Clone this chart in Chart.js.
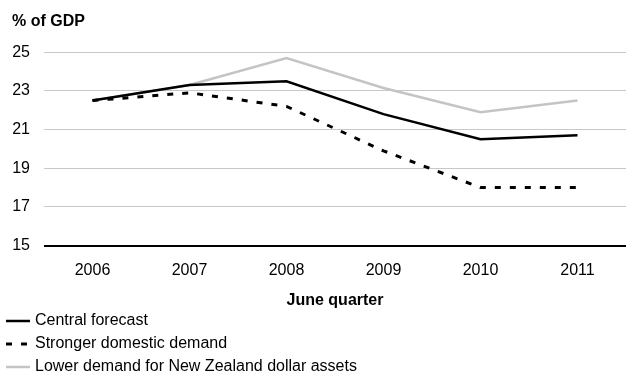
<!DOCTYPE html>
<html>
<head>
<meta charset="utf-8">
<script src="https://cdn.jsdelivr.net/npm/chart.js@4"></script>
<style>
  html, body { margin: 0; padding: 0; background: #fff; }
  #wrap { width: 626px; height: 376px; position: relative; }
</style>
</head>
<body>
<div id="wrap"><canvas id="gdpChart"></canvas></div>
<script>
const years = ['2006', '2007', '2008', '2009', '2010', '2011'];
const central = [22.5, 23.3, 23.5, 21.8, 20.5, 20.7];
const strongerDemand = [22.5, 22.9, 22.2, 19.9, 18.0, 18.0];
const lowerNzdDemand = [22.5, 23.3, 24.7, 23.15, 21.9, 22.5];
const seriesNames = ['Central forecast', 'Stronger domestic demand', 'Lower demand for New Zealand dollar assets'];

const fontFamily = '"Liberation Sans", Arial, sans-serif';

// legend drawn one item per row under the axis title
const stackedLegend = {
    id: 'stackedLegend',
    afterDraw(chart) {
        const ctx = chart.ctx;
        const top = 321;
        const rowGap = 23;
        ctx.save();
        chart.data.datasets.forEach(function(ds, i) {
            const y = top + i * rowGap;
            ctx.beginPath();
            ctx.strokeStyle = ds.borderColor;
            ctx.lineWidth = ds.borderWidth;
            ctx.setLineDash(ds.borderDash || []);
            ctx.moveTo(6, y);
            ctx.lineTo(30, y);
            ctx.stroke();
            ctx.setLineDash([]);
            ctx.fillStyle = '#000';
            ctx.font = '16px ' + fontFamily;
            ctx.textBaseline = 'middle';
            ctx.textAlign = 'left';
            ctx.fillText(ds.label, 35, y);
        });
        ctx.restore();
    }
};

new Chart(document.getElementById('gdpChart'), {
    type: 'line',
    data: {
        labels: years,
        datasets: [{
            label: seriesNames[0],
            data: central,
            borderColor: '#000000',
            borderWidth: 2.5,
            pointRadius: 0,
            tension: 0
        }, {
            label: seriesNames[1],
            data: strongerDemand,
            borderColor: '#000000',
            borderWidth: 3,
            borderDash: [6, 9],
            pointRadius: 0,
            tension: 0
        }, {
            label: seriesNames[2],
            data: lowerNzdDemand,
            borderColor: '#c4c4c4',
            borderWidth: 2.5,
            pointRadius: 0,
            tension: 0
        }]
    },
    options: {
        responsive: true,
        maintainAspectRatio: false,
        animation: false,
        layout: {
            padding: { left: 12, right: 0, top: 0, bottom: 66 }
        },
        plugins: {
            legend: { display: false },
            tooltip: { enabled: false },
            title: {
                display: true,
                text: '% of GDP',
                align: 'start',
                color: '#000',
                font: { family: fontFamily, size: 16, weight: 'bold' },
                padding: { top: 12, bottom: 21 }
            }
        },
        scales: {
            x: {
                offset: true,
                grid: { display: false, drawTicks: false },
                border: { display: false },
                ticks: {
                    color: '#000',
                    padding: 15,
                    font: { family: fontFamily, size: 16 }
                },
                title: {
                    display: true,
                    text: 'June quarter',
                    color: '#000',
                    font: { family: fontFamily, size: 16, weight: 'bold' },
                    padding: { top: -4, bottom: 0 }
                }
            },
            y: {
                min: 15,
                max: 25,
                afterFit: function(scale) { scale.width = 32; },
                ticks: {
                    stepSize: 2,
                    color: '#000',
                    padding: 14,
                    font: { family: fontFamily, size: 16 }
                },
                grid: {
                    drawTicks: false,
                    color: function(c) {
                        return c.tick && c.tick.value === 15 ? '#000' : '#c8c8c8';
                    },
                    lineWidth: function(c) {
                        return c.tick && c.tick.value === 15 ? 2 : 1;
                    }
                },
                border: { display: false }
            }
        }
    },
    plugins: [stackedLegend]
});
</script>
</body>
</html>
